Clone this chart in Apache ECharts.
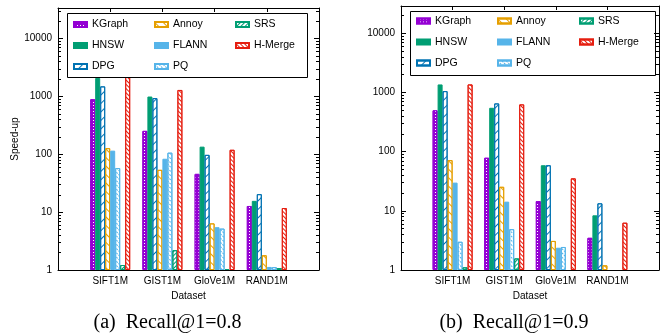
<!DOCTYPE html>
<html>
<head>
<meta charset="utf-8">
<script src="https://cdn.jsdelivr.net/npm/echarts@6/dist/echarts.min.js"></script>
<style>
  html, body { margin: 0; padding: 0; background: #fff; }
  #chart { width: 664px; height: 335px; }
</style>
</head>
<body>
<div id="chart"></div>
<script>
const datasets = ['SIFT1M', 'GIST1M', 'GloVe1M', 'RAND1M']
const methods = ['KGraph', 'HNSW', 'DPG', 'Annoy', 'FLANN', 'PQ', 'SRS', 'H-Merge']

// (a) Recall@1=0.8
const kgraph08 = [900, 255, 46, 12.8]
const hnsw08 = [2100, 1000, 136, 15.7]
const dpg08 = [1500, 940, 98, 20.5]
const annoy08 = [128, 54, 6.4, 1.8]
const flann08 = [116, 84, 5.5, 1.13]
const pq08 = [58, 107, 5.2, 1.12]
const srs08 = [1.22, 2.2, 1.04, 1.08]
const hmerge08 = [2400, 1300, 120, 11.8]

// (b) Recall@1=0.9
const kgraph09 = [500, 79, 14.6, 3.5]
const hnsw09 = [1370, 552, 59, 8.4]
const dpg09 = [1056, 654, 59, 13.4]
const annoy09 = [72, 25.5, 3.1, 1.2]
const flann09 = [30, 14.3, 2.38, null]
const pq09 = [3.0, 4.9, 2.45, null]
const srs09 = [1.11, 1.57, null, null]
const hmerge09 = [1370, 630, 35.4, 6.3]

// log axis minor tics (gnuplot style)
const minorTicks = [2, 3, 4, 5, 6, 7, 8, 9, 20, 30, 40, 50, 60, 70, 80, 90,
  200, 300, 400, 500, 600, 700, 800, 900, 2000, 3000, 4000, 5000, 6000, 7000, 8000, 9000,
  20000, 30000]

const FONT = 'Liberation Sans'
const xData = [''].concat(datasets, [''])

// fill / outline / pattern for each method
const looks = [
  { fill: '#9400d3', line: '#9400d3', decal: { symbol: 'rect', symbolSize: 1, color: '#ffffff', dashArrayX: [1, 2], dashArrayY: [1, 2] } },
  { fill: '#009e73', line: '#009e73', decal: null },
  { fill: '#ffffff', line: '#0072b2', decal: { symbol: 'rect', symbolSize: 1, color: '#0072b2', dashArrayX: [1, 0], dashArrayY: [1, 5], rotation: -Math.PI / 4 } },
  { fill: '#ffffff', line: '#e69f00', decal: { symbol: 'rect', symbolSize: 1, color: '#e69f00', dashArrayX: [1, 0], dashArrayY: [1, 5], rotation: Math.PI / 4 } },
  { fill: '#56b4e9', line: '#56b4e9', decal: null },
  { fill: '#ffffff', line: '#56b4e9', decal: { symbol: 'rect', symbolSize: 1, color: '#56b4e9', dashArrayX: [2, 1], dashArrayY: [1, 2], rotation: Math.PI / 4 } },
  { fill: '#ffffff', line: '#009e73', decal: { symbol: 'rect', symbolSize: 1, color: '#009e73', dashArrayX: [1, 0], dashArrayY: [1, 2], rotation: -Math.PI / 4 } },
  { fill: '#ffffff', line: '#e51e10', decal: { symbol: 'rect', symbolSize: 1, color: '#e51e10', dashArrayX: [1, 0], dashArrayY: [1, 2], rotation: Math.PI / 4 } }
]

function makeSeries(g, lists) {
  return methods.map((name, i) => {
    const st = {
      color: looks[i].fill,
      borderColor: looks[i].line,
      borderWidth: 1
    }
    if (looks[i].decal) st.decal = looks[i].decal
    return {
      name: name,
      type: 'bar',
      xAxisIndex: g * 2,
      yAxisIndex: g * 4,
      barWidth: 5,
      barGap: '0%',
      animation: false,
      data: [null].concat(lists[i], [null]),
      itemStyle: st
    }
  })
}

function makeXAxes(g) {
  return [
    {
      type: 'category', gridIndex: g, data: xData, boundaryGap: false, z: 5,
      axisLine: { lineStyle: { color: '#000', width: 1 } },
      axisTick: { show: false },
      axisLabel: { interval: 0, fontSize: 10, fontFamily: FONT, color: '#000', margin: 6 },
      name: 'Dataset', nameLocation: 'middle', nameGap: 20,
      nameTextStyle: { fontSize: 10, fontFamily: FONT, color: '#000' }
    },
    {
      type: 'category', gridIndex: g, data: xData, boundaryGap: false, position: 'top', z: 5,
      axisLine: { lineStyle: { color: '#000', width: 1 } },
      axisTick: { inside: true, length: 4, lineStyle: { color: '#000' }, interval: (idx, v) => v !== '' },
      axisLabel: { show: false }
    }
  ]
}

function makeYAxes(g, max) {
  const base = { type: 'log', logBase: 10, gridIndex: g, min: 1, max: max, z: 5, splitLine: { show: false } }
  return [
    Object.assign({}, base, {
      position: 'left',
      axisLine: { show: true, lineStyle: { color: '#000', width: 1 } },
      axisTick: { show: true, inside: true, length: 5, lineStyle: { color: '#000' } },
      axisLabel: { fontSize: 10, fontFamily: FONT, color: '#000', margin: 6, showMaxLabel: false, formatter: v => String(Math.round(v)) },
      name: g === 0 ? 'Speed-up' : '', nameLocation: 'middle', nameGap: 29,
      nameTextStyle: { fontSize: 10, fontFamily: FONT, color: '#000' }
    }),
    Object.assign({}, base, {
      position: 'left',
      axisLine: { show: false },
      axisTick: { show: true, inside: true, length: 3, lineStyle: { color: '#000' }, customValues: minorTicks.filter(v => v < max) },
      axisLabel: { show: false }
    }),
    Object.assign({}, base, {
      position: 'right',
      axisLine: { show: true, lineStyle: { color: '#000', width: 1 } },
      axisTick: { show: true, inside: true, length: 5, lineStyle: { color: '#000' } },
      axisLabel: { show: false }
    }),
    Object.assign({}, base, {
      position: 'right',
      axisLine: { show: false },
      axisTick: { show: true, inside: true, length: 3, lineStyle: { color: '#000' }, customValues: minorTicks.filter(v => v < max) },
      axisLabel: { show: false }
    })
  ]
}

function makeLegend(names, left, top) {
  return {
    data: names, orient: 'vertical', left: left, top: top, padding: 0,
    itemWidth: 13, itemHeight: 5, itemGap: 8, icon: 'rect',
    textStyle: { fontSize: 10.5, fontFamily: FONT, color: '#000', lineHeight: 13 }
  }
}

const chart = echarts.init(document.getElementById('chart'))
chart.setOption({
  backgroundColor: '#fff',
  animation: false,
  grid: [
    { left: 58, top: 8, right: 345, bottom: 65 },
    { left: 401, top: 6, right: 5, bottom: 65 }
  ],
  xAxis: makeXAxes(0).concat(makeXAxes(1)),
  yAxis: makeYAxes(0, 34000).concat(makeYAxes(1, 29000)),
  legend: [
    makeLegend(['KGraph', 'HNSW', 'DPG'], 73, 18),
    makeLegend(['Annoy', 'FLANN', 'PQ'], 154, 18),
    makeLegend(['SRS', 'H-Merge'], 235, 18),
    makeLegend(['KGraph', 'HNSW', 'DPG'], 416, 14.5),
    makeLegend(['Annoy', 'FLANN', 'PQ'], 497, 14.5),
    makeLegend(['SRS', 'H-Merge'], 579, 14.5)
  ],
  graphic: [
    // key boxes
    { type: 'rect', z: 3, shape: { x: 67.5, y: 13.5, width: 240, height: 64 }, style: { fill: '#fff', stroke: '#000', lineWidth: 1 } },
    { type: 'rect', z: 3, shape: { x: 410.5, y: 11.5, width: 245, height: 64 }, style: { fill: '#fff', stroke: '#000', lineWidth: 1 } },
    // sub captions
    { type: 'text', x: 167.5, y: 323, style: { text: '(a)  Recall@1=0.8', align: 'center', verticalAlign: 'middle', font: '20px "Liberation Serif"', fill: '#000' } },
    { type: 'text', x: 514, y: 323, style: { text: '(b)  Recall@1=0.9', align: 'center', verticalAlign: 'middle', font: '20px "Liberation Serif"', fill: '#000' } }
  ],
  series: makeSeries(0, [kgraph08, hnsw08, dpg08, annoy08, flann08, pq08, srs08, hmerge08])
    .concat(makeSeries(1, [kgraph09, hnsw09, dpg09, annoy09, flann09, pq09, srs09, hmerge09]))
})
</script>
</body>
</html>
